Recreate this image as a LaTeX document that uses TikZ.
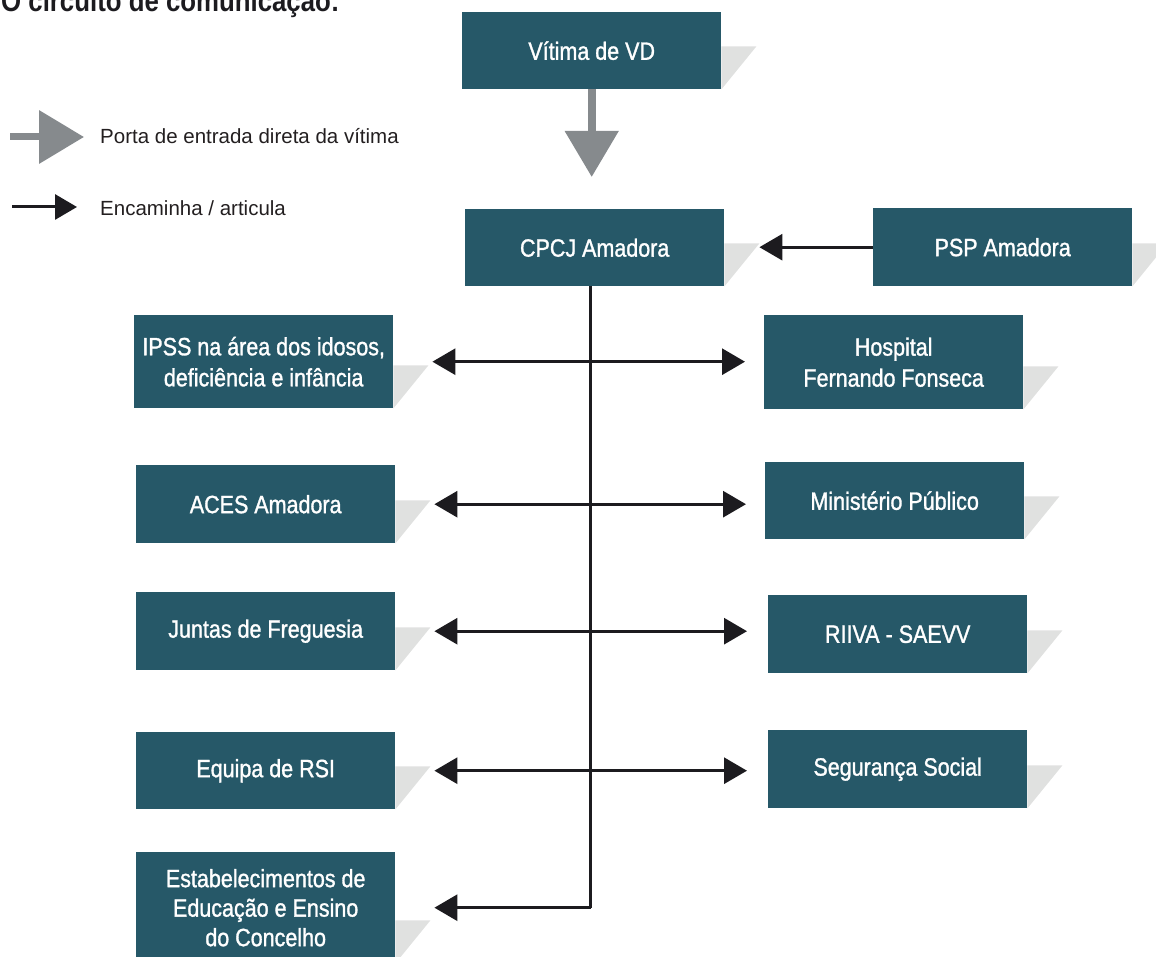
\documentclass[tikz,border=0pt]{standalone}
\usepackage{fontspec}
\setmainfont{Liberation Sans}
\newfontfamily\boxfont[FakeStretch=0.86,FakeBold=1.2]{Liberation Sans}
\newfontfamily\titlefont[FakeStretch=0.86]{Liberation Sans}
\usetikzlibrary{arrows.meta}
\definecolor{teal}{RGB}{38,88,104}
\definecolor{shadowc}{RGB}{224,225,224}
\definecolor{grayarrow}{RGB}{134,138,141}
\definecolor{blackarrow}{RGB}{28,27,31}
\definecolor{legendtext}{RGB}{35,31,32}
\tikzset{
  box/.style={fill=teal, text=white, anchor=north west, inner sep=0pt,
    minimum width=259pt, align=center,
    font=\boxfont\fontsize{25}{31}\selectfont},
  box3/.style={box, font=\boxfont\fontsize{25}{29.5}\selectfont},
  link/.style={draw=blackarrow, line width=3pt,
    -{Triangle[length=23pt,width=26pt]}},
  biLink/.style={draw=blackarrow, line width=3pt,
    {Triangle[length=23pt,width=26pt]}-{Triangle[length=23pt,width=26pt]}},
  entry/.style={draw=grayarrow, line width=8pt,
    -{Triangle[length=46pt,width=52pt]}},
  legendlabel/.style={anchor=west, inner sep=0pt, text=legendtext,
    font=\fontsize{20.5}{24}\selectfont}
}
\begin{document}
\begin{tikzpicture}[x=1pt,y=-1pt]
\useasboundingbox (0,0) rectangle (1156,957);

% title
\node[anchor=base west, inner sep=0pt, text=blackarrow,
  font=\titlefont\bfseries\fontsize{30}{33}\selectfont] (title) at (1,12) {O circuito de comunicação:};

% legend
\coordinate (lg1s) at (10,137);
\coordinate (lg1e) at (84,137);
\coordinate (lg2s) at (12,207);
\coordinate (lg2e) at (77,207);
\draw[entry, line width=7pt, -{Triangle[length=45pt,width=52pt]}] (lg1s) -- (lg1e);
\draw[link, -{Triangle[length=22pt,width=25pt]}] (lg2s) -- (lg2e);
\node[legendlabel] (lgt1) at (100,136) {Porta de entrada direta da vítima};
\node[legendlabel] (lgt2) at (100,208) {Encaminha / articula};

% boxes
\node[box, minimum height=77pt] (v) at (462,12) {Vítima de VD};
\node[box, minimum height=77pt] (cp) at (465,209) {CPCJ Amadora};
\node[box, minimum height=78pt] (psp) at (873,208) {PSP Amadora};
\node[box, minimum height=93pt] (ipss) at (134,315) {IPSS na área dos idosos,\\deficiência e infância};
\node[box, minimum height=94pt] (hosp) at (764,315) {Hospital\\Fernando Fonseca};
\node[box, minimum height=78pt] (aces) at (136,465) {ACES Amadora};
\node[box, minimum height=77pt] (mp) at (765,462) {Ministério Público};
\node[box, minimum height=78pt] (jf) at (136,592) {Juntas de Freguesia};
\node[box, minimum height=78pt] (riiva) at (768,595) {RIIVA - SAEVV};
\node[box, minimum height=77pt] (rsi) at (136,732) {Equipa de RSI};
\node[box, minimum height=78pt] (ss) at (768,730) {Segurança Social};
\node[box3, minimum height=111pt] (est) at (136,852) {Estabelecimentos de\\Educação e Ensino\\do Concelho};

% shadows
\foreach \n in {v,cp,psp,ipss,hosp,aces,mp,jf,riiva,rsi,ss,est}{
  \fill[shadowc] ([yshift=43pt]\n.south east) -- ++(35pt,0pt) -- (\n.south east) -- cycle;
}

% connectors
\draw[entry] (v.south) -- ([yshift=32pt]cp.north -| v.south);
\draw[link] (psp.west) -- ([xshift=35pt]cp.east |- psp.west);
\draw[draw=blackarrow, line width=3pt] ([xshift=-4pt]cp.south) -- ([xshift=-4pt]cp.south |- est.east);
\draw[link] ([xshift=-4pt]cp.south |- est.east) -- ([xshift=39pt]est.east);
\draw[biLink] ([xshift=39pt]ipss.east) -- ([xshift=-19pt]hosp.west |- ipss.east);
\draw[biLink] ([xshift=39pt]aces.east) -- ([xshift=-19pt]mp.west |- aces.east);
\draw[biLink] ([xshift=39pt]jf.east) -- ([xshift=-21pt]riiva.west |- jf.east);
\draw[biLink] ([xshift=39pt]rsi.east) -- ([xshift=-21pt]ss.west |- rsi.east);
\end{tikzpicture}
\end{document}
